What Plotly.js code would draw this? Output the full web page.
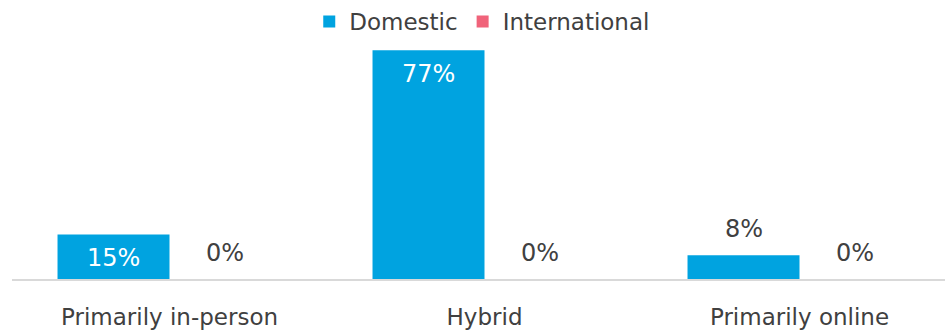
<!DOCTYPE html>
<html>
<head>
<meta charset="utf-8">
<script src="https://cdn.plot.ly/plotly-3.0.1.min.js"></script>
<style>html,body{margin:0;padding:0;background:#fff;}#chart{width:945px;height:331px;}</style>
</head>
<body>
<div id="chart"></div>
<script>
const categories = ['Primarily in-person', 'Hybrid', 'Primarily online'];
const seriesNames = ['Domestic', 'International'];
const domestic = [15, 77, 8];
const international = [0, 0, 0];

const colors = ['#00A3E0', '#F0637A'];
const textColor = '#404040';
const fontFamily = '"DejaVu Sans", Verdana, sans-serif';
const bargap = 0.289;
const insideThreshold = 12;

const seriesValues = [domestic, international];
const idx = categories.map((c, i) => i);

const traces = seriesValues.map((vals, s) => ({
  type: 'bar',
  name: seriesNames[s],
  x: idx,
  y: vals,
  marker: {color: colors[s], line: {width: 0}},
  hoverinfo: 'skip'
}));

const annotations = [];
seriesValues.forEach((vals, s) => {
  const off = (s === 0 ? -1 : 1) * (1 - bargap) / 4;
  vals.forEach((v, i) => {
    const inside = v >= insideThreshold;
    annotations.push({
      x: i + off, y: v, xref: 'x', yref: 'y',
      text: v + '%', showarrow: false,
      xanchor: 'center',
      yanchor: inside ? 'top' : 'bottom',
      yshift: inside ? -8 : 10,
      font: {family: fontFamily, size: 24, color: inside ? '#FFFFFF' : textColor}
    });
  });
});

const layout = {
  width: 945, height: 331,
  margin: {l: 12, r: 0, t: 0, b: 52},
  paper_bgcolor: '#FFFFFF', plot_bgcolor: '#FFFFFF',
  font: {family: fontFamily, color: textColor},
  barmode: 'group', bargap: bargap, bargroupgap: 0,
  showlegend: true,
  legend: {orientation: 'h', x: 0.3186, xanchor: 'left', y: 1, yanchor: 'top',
           font: {family: fontFamily, size: 23, color: textColor}, bgcolor: 'rgba(0,0,0,0)', traceorder: 'normal'},
  xaxis: {
    type: 'linear', range: [-0.5, -0.5 + 933 / 315],
    tickmode: 'array', tickvals: idx, ticktext: categories,
    showline: true, linecolor: '#D9D9D9', linewidth: 2,
    showgrid: false, zeroline: false, ticks: '',
    ticklabelstandoff: 16,
    tickfont: {family: fontFamily, size: 23, color: textColor}
  },
  yaxis: {range: [0, 279 / 2.97], visible: false, showgrid: false, zeroline: false},
  annotations: annotations
};

Plotly.newPlot('chart', traces, layout, {staticPlot: true, displayModeBar: false});
</script>
</body>
</html>
